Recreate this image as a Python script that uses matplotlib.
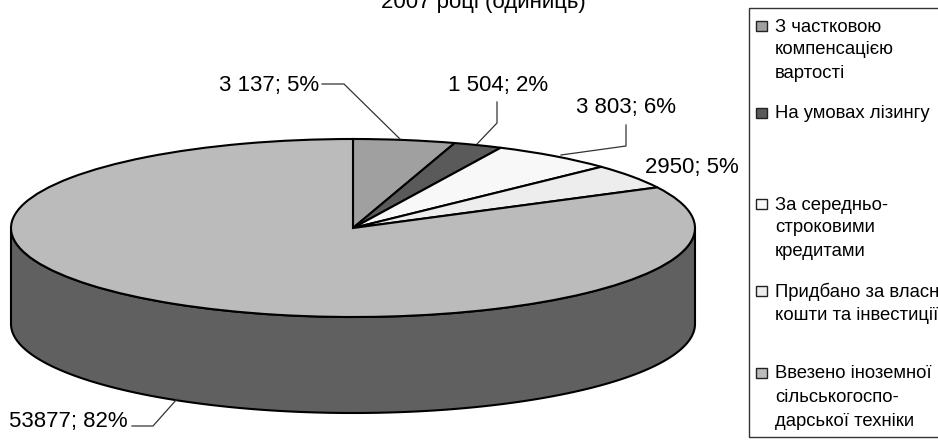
import numpy as np
import matplotlib
matplotlib.use("Agg")
import matplotlib.pyplot as plt
from matplotlib.patches import Rectangle

plt.rcParams['font.family'] = ['Liberation Sans', 'DejaVu Sans']

title_text = "2007 році (одиниць)"
categories = ["З частковою\nкомпенсацією\nвартості", "На умовах лізингу",
              "За середньо-\nстроковими\nкредитами",
              "Придбано за власні\nкошти та інвестиції",
              "Ввезено іноземної\nсільськогоспо-\nдарської техніки"]
values = [3137, 1504, 3803, 2950, 53877]
value_labels = ["3 137; 5%", "1 504; 2%", "3 803; 6%", "2950; 5%", "53877; 82%"]
colors = ["#A0A0A0", "#5A5A5A", "#F8F8F8", "#EDEDED", "#BBBBBB"]
side_color = "#606060"

W, H = 938, 443
CX, CY, RX, RY, DEPTH = 353.0, 228.0, 342.0, 89.0, 96.0

fig = plt.figure(figsize=(W / 100, H / 100), dpi=100, facecolor="white")
ax = fig.add_axes([0, 0, 1, 1])

ax.pie(values, colors=colors, startangle=90, counterclock=False, radius=1,
       wedgeprops=dict(edgecolor="black", linewidth=1.5))
ax.set_aspect("auto")
ax.set_xlim(-CX / RX, (W - CX) / RX)
ax.set_ylim((CY - H) / RY, CY / RY)
ax.axis("off")

t = np.linspace(np.pi, 2 * np.pi, 300)
d = DEPTH / RY
ax.fill(np.r_[np.cos(t), np.cos(t)[::-1]],
        np.r_[np.sin(t), np.sin(t)[::-1] - d],
        facecolor=side_color, edgecolor="black", linewidth=1.5, zorder=0.5)


def P(x, y):
    return ((x - CX) / RX, (CY - y) / RY)


leaders = [[(322, 84), (344, 84), (400, 139)],
           [(497, 102), (497, 123), (477, 144)],
           [(626, 125), (626, 146), (561, 155)],
           [(132, 426), (153, 426), (177, 399)]]
for pts in leaders:
    q = np.array([P(*p) for p in pts])
    ax.plot(q[:, 0], q[:, 1], color="#333333", lw=0.9, zorder=3)

FS = 16
label_pos = [(319, 85, "right"), (448, 85, "left"), (576, 108, "left"),
             (645, 167, "left"), (128, 422, "right")]
for txt, (x, y, ha) in zip(value_labels, label_pos):
    ax.text(*P(x, y), txt, fontsize=FS, ha=ha, va="center", color="black", zorder=4)

ax.text(*P(483, 2), title_text, fontsize=FS, ha="center", va="center", color="black")

ax.add_patch(Rectangle(P(749, 437), 300 / RX, 429 / RY, facecolor="white",
                       edgecolor="#333333", linewidth=1, zorder=2))
line_y = [[27, 50, 74], [114], [205, 228, 252], [292, 315], [374, 398, 421]]
for cat, col, ys in zip(categories, colors, line_y):
    ax.add_patch(Rectangle(P(756, ys[0] + 4), 11 / RX, 10 / RY, facecolor=col,
                           edgecolor="#222222", linewidth=1, zorder=3))
    for line, y in zip(cat.split("\n"), ys):
        ax.text(*P(775, y), line, fontsize=13.3, ha="left", va="center", color="black", zorder=4)

fig.savefig("out.png", dpi=100, facecolor="white")
